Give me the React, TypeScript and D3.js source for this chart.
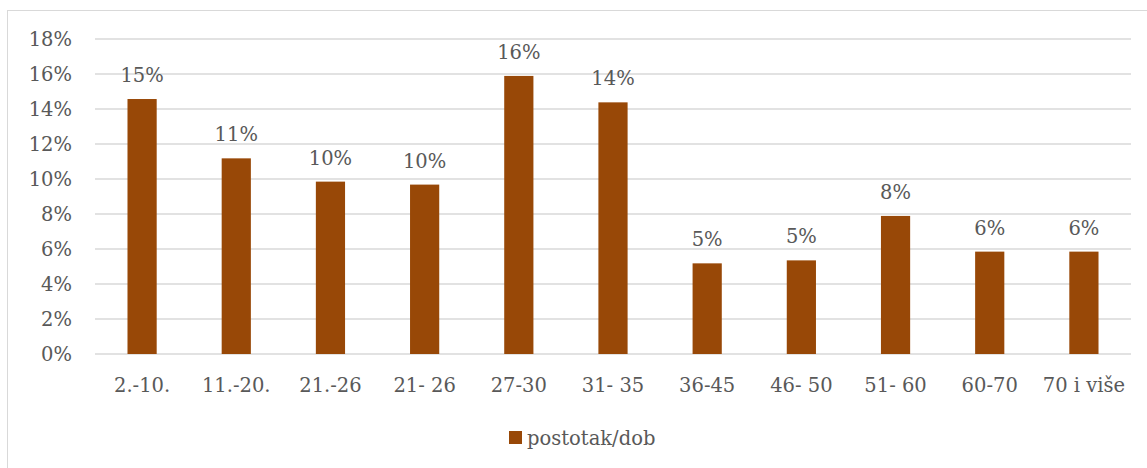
import React from "react";
import * as d3 from "d3";

// categories and values
const categories = ["2.-10.", "11.-20.", "21.-26", "21- 26", "27-30", "31- 35", "36-45", "46- 50", "51- 60", "60-70", "70 i više"];
const values = [0.1457, 0.1118, 0.0985, 0.0968, 0.1589, 0.1438, 0.0518, 0.0535, 0.0789, 0.0585, 0.0585];
const yTicks = [0, 0.02, 0.04, 0.06, 0.08, 0.1, 0.12, 0.14, 0.16, 0.18];
const seriesName = "postotak/dob";

const W = 1147;
const H = 468;
const margin = { left: 95, right: 16, top: 39, bottom: 114 };
const barColor = "#984807";
const textColor = "#595959";
const gridColor = "#d9d9d9";
const font = "'DejaVu Serif', serif";
const fontSize = 19.5;

export default function App() {
  const x = d3
    .scaleBand<string>()
    .domain(categories)
    .range([margin.left, W - margin.right])
    .paddingInner(0.69)
    .paddingOuter(0.345);
  const y = d3
    .scaleLinear()
    .domain([0, 0.18])
    .range([H - margin.bottom, margin.top]);
  const pct = d3.format(".0%");

  return (
    <svg
      width={W}
      height={H}
      style={{ position: "absolute", left: 0, top: 0, background: "#fff" }}
      fontFamily={font}
      fontSize={fontSize}
    >
      <rect x={7.5} y={10.5} width={W + 10} height={H + 10} fill="#fff" stroke={gridColor} />
      {/* gridlines */}
      <g>
        {yTicks.map((t) => (
          <line
            key={t}
            x1={margin.left}
            x2={W - margin.right}
            y1={y(t)}
            y2={y(t)}
            stroke={gridColor}
            strokeWidth={1.5}
          />
        ))}
      </g>
      {/* y labels */}
      <g textAnchor="end" fill={textColor}>
        {yTicks.map((t) => (
          <text key={t} x={72} y={y(t)} dy="0.36em">
            {pct(t)}
          </text>
        ))}
      </g>
      {/* bars */}
      <g>
        {categories.map((c, i) => (
          <rect
            key={c}
            x={x(c)}
            y={y(values[i])}
            width={x.bandwidth()}
            height={y(0) - y(values[i])}
            fill={barColor}
          />
        ))}
      </g>
      {/* data labels */}
      <g textAnchor="middle" fill={textColor}>
        {categories.map((c, i) => (
          <text key={c} x={(x(c) ?? 0) + x.bandwidth() / 2} y={y(values[i]) - 17}>
            {pct(values[i])}
          </text>
        ))}
      </g>
      {/* x labels */}
      <g textAnchor="middle" fill={textColor}>
        {categories.map((c) => (
          <text key={c} x={(x(c) ?? 0) + x.bandwidth() / 2} y={y(0) + 31} dy="0.36em" dx={0}>
            {c}
          </text>
        ))}
      </g>
      {/* legend */}
      <g>
        <rect x={509} y={431} width={13} height={13} fill={barColor} />
        <text x={527} y={437.5} dy="0.36em" fill={textColor}>
          {seriesName}
        </text>
      </g>
    </svg>
  );
}
